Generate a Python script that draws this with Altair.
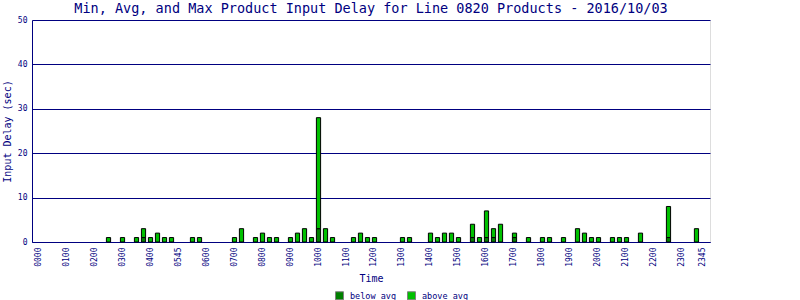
import altair as alt
import pandas as pd

# 15-minute time slots (categories)
SLOTS = [f"{h:02d}{m:02d}" for h in range(24) for m in (0, 15, 30, 45)]

# Tick positions and the labels shown on the time axis
TICK_VALUES = ["0000", "0100", "0200", "0300", "0400", "0500", "0600", "0700",
               "0800", "0900", "1000", "1100", "1200", "1300", "1400", "1500",
               "1600", "1700", "1800", "1900", "2000", "2100", "2200", "2300", "2345"]
TICK_LABELS = ["0000", "0100", "0200", "0300", "0400", "0545", "0600", "0700",
               "0800", "0900", "1000", "1100", "1200", "1300", "1400", "1500",
               "1600", "1700", "1800", "1900", "2000", "2100", "2200", "2300", "2345"]

# Bars: time, total delay (sec), portion below average
BAR_TIMES = ["0230", "0300", "0330", "0345", "0400", "0415", "0430", "0445",
             "0530", "0545", "0700", "0715", "0745", "0800", "0815", "0830",
             "0900", "0915", "0930", "0945", "1000", "1015", "1030", "1115",
             "1130", "1145", "1200", "1300", "1315", "1400", "1415", "1430",
             "1445", "1500", "1530", "1545", "1600", "1615", "1630", "1700",
             "1730", "1800", "1815", "1845", "1915", "1930", "1945", "2000",
             "2030", "2045", "2100", "2130", "2230", "2330"]
TOTAL = [1, 1, 1, 3, 1, 2, 1, 1,
         1, 1, 1, 3, 1, 2, 1, 1,
         1, 2, 3, 1, 28, 3, 1, 1,
         2, 1, 1, 1, 1, 2, 1, 2,
         2, 1, 4, 1, 7, 3, 4, 2,
         1, 1, 1, 1, 3, 2, 1, 1,
         1, 1, 1, 2, 8, 3]
BELOW = [0, 0, 0, 1, 0, 0, 0, 0,
         0, 0, 0, 0, 0, 0, 0, 0,
         0, 0, 0, 0, 3, 0, 0, 0,
         0, 0, 0, 0, 0, 0, 0, 0,
         0, 0, 1, 0, 1, 1, 0, 1,
         0, 0, 0, 0, 0, 0, 0, 0,
         0, 0, 0, 0, 1, 0]

SERIES = ["below avg", "above avg"]
COLORS = ["#008000", "#00C000"]

rows = []
for t, tot, b in zip(BAR_TIMES, TOTAL, BELOW):
    if b > 0:
        rows.append({"time": t, "series": "below avg", "delay": b, "ord": 0})
    if tot - b > 0:
        rows.append({"time": t, "series": "above avg", "delay": tot - b, "ord": 1})
df = pd.DataFrame(rows)

NAVY = "#000080"
FONT = "DejaVu Sans Mono"

vals_js = "[" + ",".join(f"'{v}'" for v in TICK_VALUES) + "]"
labs_js = "[" + ",".join(f"'{v}'" for v in TICK_LABELS) + "]"
label_expr = f"{labs_js}[indexof({vals_js}, datum.value)]"

chart = alt.Chart(df).mark_bar(stroke="black", strokeWidth=1).encode(
    x=alt.X("time:O",
            scale=alt.Scale(domain=SLOTS, paddingInner=0.4, paddingOuter=0.63),
            axis=alt.Axis(values=TICK_VALUES, labelExpr=label_expr, labelAngle=270,
                          labelAlign="right", labelBaseline="middle",
                          labelFont=FONT, labelFontSize=8, labelColor=NAVY,
                          labelPadding=5, tickSize=0, domainColor=NAVY,
                          title="Time", titleFont=FONT, titleFontSize=10,
                          titleFontWeight="normal", titleColor=NAVY,
                          titlePadding=7, labelOverlap=False)),
    y=alt.Y("delay:Q", stack="zero",
            scale=alt.Scale(domain=[0, 50], nice=False),
            axis=alt.Axis(values=[0, 10, 20, 30, 40, 50], tickSize=0,
                          domainColor=NAVY, gridColor=NAVY, gridOpacity=1,
                          labelFont=FONT, labelFontSize=8, labelColor=NAVY,
                          labelPadding=5, title="Input Delay (sec)",
                          titleFont=FONT, titleFontSize=10,
                          titleFontWeight="normal", titleColor=NAVY,
                          titlePadding=5)),
    color=alt.Color("series:N", scale=alt.Scale(domain=SERIES, range=COLORS),
                    legend=alt.Legend(title=None, orient="none", legendX=303,
                                      legendY=271, direction="horizontal",
                                      symbolType="square", symbolSize=64,
                                      symbolStrokeColor="#808080",
                                      symbolStrokeWidth=1,
                                      labelFont=FONT, labelFontSize=8.5,
                                      labelColor=NAVY, labelOffset=6,
                                      columnPadding=8, padding=0)),
    order=alt.Order("ord:Q"),
).properties(
    width=678, height=222,
    title=alt.TitleParams("Min, Avg, and Max Product Input Delay for Line 0820 Products - 2016/10/03",
                          font=FONT, fontSize=13.5, fontWeight="normal",
                          color=NAVY, anchor="middle", offset=1),
    autosize=alt.AutoSizeParams(type="none"),
    padding={"left": 32, "top": 20, "right": 90, "bottom": 58},
).configure_view(stroke=NAVY, strokeWidth=1).configure(background="white")

chart.save("out.html", embed_options={"renderer": "svg", "actions": False})
